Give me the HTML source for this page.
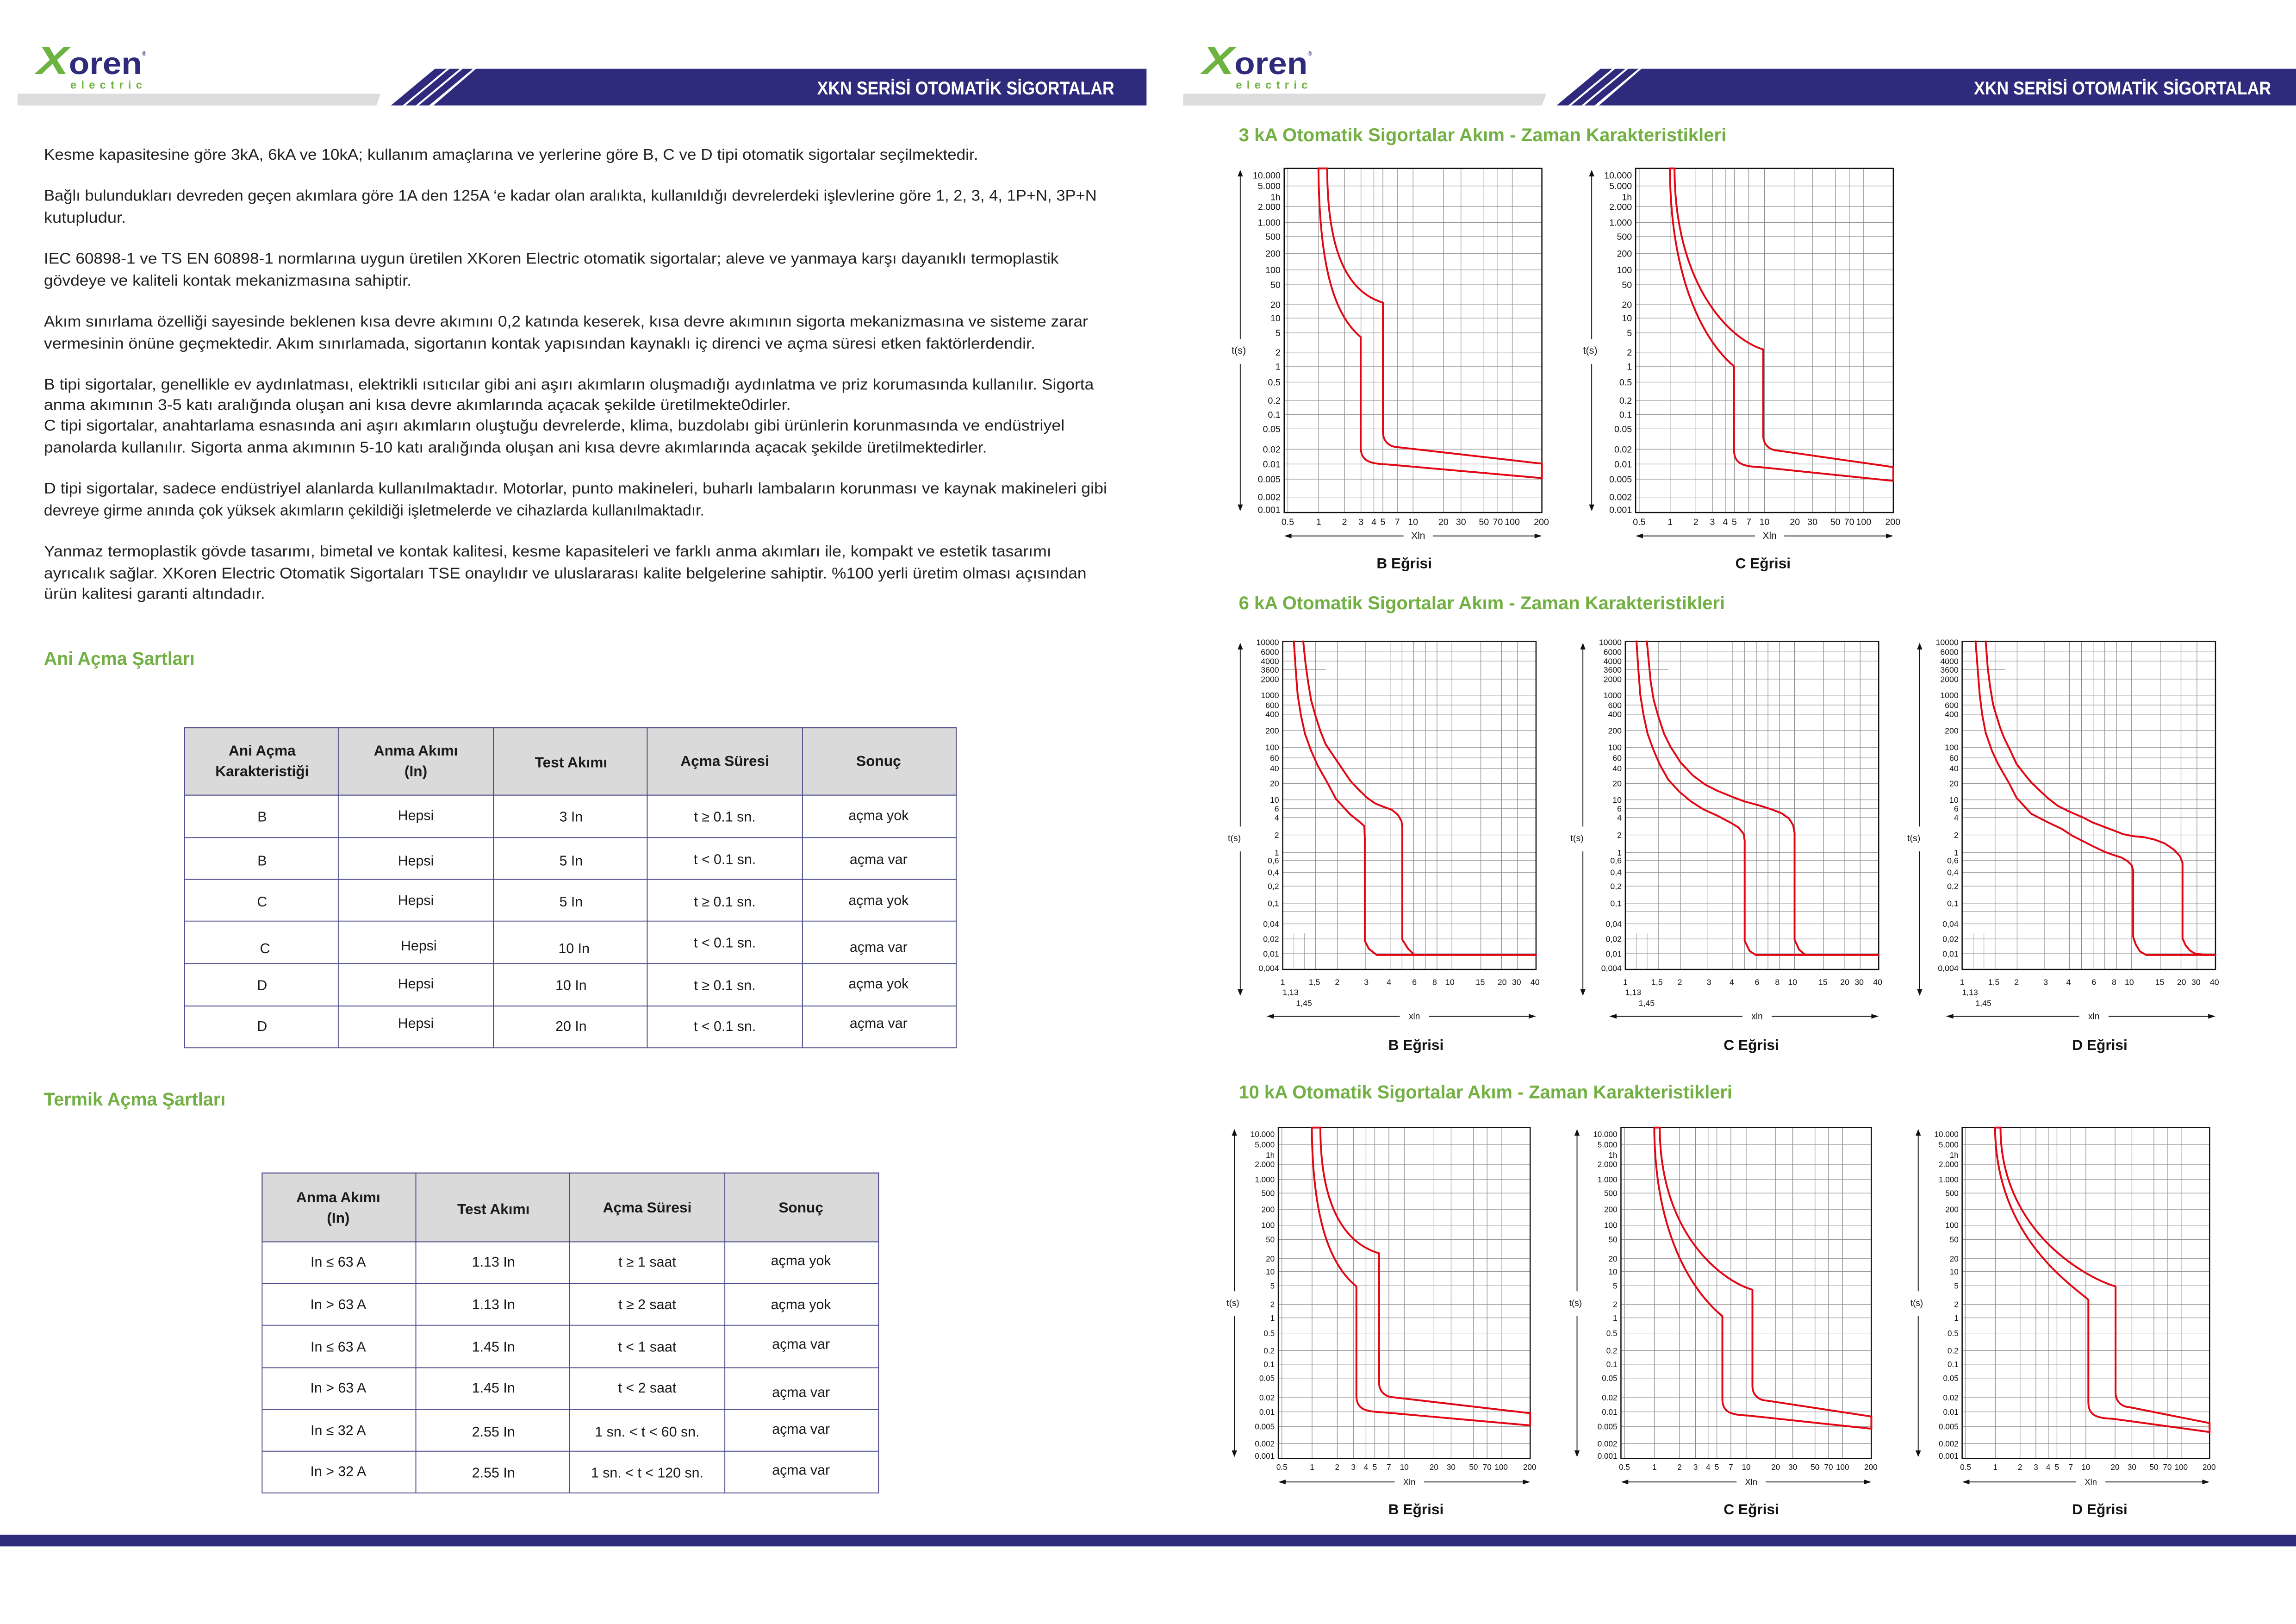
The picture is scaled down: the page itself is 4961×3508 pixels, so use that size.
<!DOCTYPE html>
<html><head><meta charset="utf-8">
<style>
html,body{margin:0;padding:0;background:#fff;}
svg{display:block;}
.p{font-family:"Liberation Sans",sans-serif;font-size:10.4px;fill:#222;}
.h{font-family:"Liberation Sans",sans-serif;font-weight:bold;fill:#72b043;font-size:12.5px;}
.th{font-family:"Liberation Sans Narrow","Liberation Sans",sans-serif;font-weight:bold;font-size:10px;fill:#1a1a1a;text-anchor:middle;}
.td{font-family:"Liberation Sans Narrow","Liberation Sans",sans-serif;font-size:9.6px;fill:#1a1a1a;text-anchor:middle;}
.cap{font-family:"Liberation Sans",sans-serif;font-weight:bold;font-size:10px;fill:#111;text-anchor:middle;}
.ch text{font-family:"Liberation Sans",sans-serif;fill:#111;}
.tt{font-family:"Liberation Sans Narrow","Liberation Sans",sans-serif;font-weight:bold;font-size:12.5px;fill:#fff;}
</style></head><body>
<svg id="S" width="4961" height="3508" viewBox="0 0 1568 1109" preserveAspectRatio="none" xmlns="http://www.w3.org/2000/svg">
<rect width="1568" height="1109" fill="#fff"/>
<!-- headers -->
<g id="hdrL">
<polygon points="12,64 260,64 257,72 12,72" fill="#dcdcdc"/>
<polygon points="267,72 275,72 305,47 297,47" fill="#2e2b7c"/>
<polygon points="277,72 284,72 314,47 307,47" fill="#2e2b7c"/>
<polygon points="286,72 293,72 323,47 316,47" fill="#2e2b7c"/>
<polygon points="296,72 325,47 783,47 783,72" fill="#2e2b7c"/>
<text class="tt" x="761" y="64.5" text-anchor="end" textLength="203" lengthAdjust="spacingAndGlyphs">XKN SERİSİ OTOMATİK SİGORTALAR</text>
<text x="25" y="50.6" font-family="Liberation Sans" font-weight="bold" font-style="italic" font-size="27" fill="#6db33f" textLength="22" lengthAdjust="spacingAndGlyphs">X</text>
<text x="47" y="50.6" font-family="Liberation Sans" font-weight="bold" font-size="21" fill="#2e2b7c" textLength="50" lengthAdjust="spacingAndGlyphs">oren</text>
<text x="97" y="38" font-family="Liberation Sans" font-size="4" fill="#2e2b7c">®</text>
<text x="48" y="60.5" font-family="Liberation Sans" font-weight="bold" font-size="7.5" fill="#6db33f" textLength="49" lengthAdjust="spacing">electric</text>
</g>
<g transform="translate(796,0)">
<polygon points="12,64 260,64 257,72 12,72" fill="#dcdcdc"/>
<polygon points="267,72 275,72 305,47 297,47" fill="#2e2b7c"/>
<polygon points="277,72 284,72 314,47 307,47" fill="#2e2b7c"/>
<polygon points="286,72 293,72 323,47 316,47" fill="#2e2b7c"/>
<polygon points="296,72 325,47 772,47 772,72" fill="#2e2b7c"/>
<text class="tt" x="755" y="64.5" text-anchor="end" textLength="203" lengthAdjust="spacingAndGlyphs">XKN SERİSİ OTOMATİK SİGORTALAR</text>
<text x="25" y="50.6" font-family="Liberation Sans" font-weight="bold" font-style="italic" font-size="27" fill="#6db33f" textLength="22" lengthAdjust="spacingAndGlyphs">X</text>
<text x="47" y="50.6" font-family="Liberation Sans" font-weight="bold" font-size="21" fill="#2e2b7c" textLength="50" lengthAdjust="spacingAndGlyphs">oren</text>
<text x="97" y="38" font-family="Liberation Sans" font-size="4" fill="#2e2b7c">®</text>
<text x="48" y="60.5" font-family="Liberation Sans" font-weight="bold" font-size="7.5" fill="#6db33f" textLength="49" lengthAdjust="spacing">electric</text>
</g>
<rect x="0" y="1048" width="1568" height="8" fill="#2e2b7c"/>

<!-- paragraphs -->
<text class="p" x="30" y="109" textLength="638" lengthAdjust="spacingAndGlyphs">Kesme kapasitesine göre 3kA, 6kA ve 10kA; kullanım amaçlarına ve yerlerine göre B, C ve D tipi otomatik sigortalar seçilmektedir.</text>
<text class="p" x="30" y="137" textLength="719" lengthAdjust="spacingAndGlyphs">Bağlı bulundukları devreden geçen akımlara göre 1A den 125A ‘e kadar olan aralıkta, kullanıldığı devrelerdeki işlevlerine göre 1, 2, 3, 4, 1P+N, 3P+N</text>
<text class="p" x="30" y="152" textLength="56" lengthAdjust="spacingAndGlyphs">kutupludur.</text>
<text class="p" x="30" y="180" textLength="693" lengthAdjust="spacingAndGlyphs">IEC 60898-1 ve TS EN 60898-1 normlarına uygun üretilen XKoren Electric otomatik sigortalar; aleve ve yanmaya karşı dayanıklı termoplastik</text>
<text class="p" x="30" y="195" textLength="251" lengthAdjust="spacingAndGlyphs">gövdeye ve kaliteli kontak mekanizmasına sahiptir.</text>
<text class="p" x="30" y="223" textLength="713" lengthAdjust="spacingAndGlyphs">Akım sınırlama özelliği sayesinde beklenen kısa devre akımını 0,2 katında keserek, kısa devre akımının sigorta mekanizmasına ve sisteme zarar</text>
<text class="p" x="30" y="238" textLength="677" lengthAdjust="spacingAndGlyphs">vermesinin önüne geçmektedir. Akım sınırlamada, sigortanın kontak yapısından kaynaklı iç direnci ve açma süresi etken faktörlerdendir.</text>
<text class="p" x="30" y="266" textLength="717" lengthAdjust="spacingAndGlyphs">B tipi sigortalar, genellikle ev aydınlatması, elektrikli ısıtıcılar gibi ani aşırı akımların oluşmadığı aydınlatma ve priz korumasında kullanılır. Sigorta</text>
<text class="p" x="30" y="280" textLength="510" lengthAdjust="spacingAndGlyphs">anma akımının 3-5 katı aralığında oluşan ani kısa devre akımlarında açacak şekilde üretilmekte0dirler.</text>
<text class="p" x="30" y="294" textLength="697" lengthAdjust="spacingAndGlyphs">C tipi sigortalar, anahtarlama esnasında ani aşırı akımların oluştuğu devrelerde, klima, buzdolabı gibi ürünlerin korunmasında ve endüstriyel</text>
<text class="p" x="30" y="309" textLength="644" lengthAdjust="spacingAndGlyphs">panolarda kullanılır. Sigorta anma akımının 5-10 katı aralığında oluşan ani kısa devre akımlarında açacak şekilde üretilmektedirler.</text>
<text class="p" x="30" y="337" textLength="726" lengthAdjust="spacingAndGlyphs">D tipi sigortalar, sadece endüstriyel alanlarda kullanılmaktadır. Motorlar, punto makineleri, buharlı lambaların korunması ve kaynak makineleri gibi</text>
<text class="p" x="30" y="352" textLength="451" lengthAdjust="spacingAndGlyphs">devreye girme anında çok yüksek akımların çekildiği işletmelerde ve cihazlarda kullanılmaktadır.</text>
<text class="p" x="30" y="380" textLength="688" lengthAdjust="spacingAndGlyphs">Yanmaz termoplastik gövde tasarımı, bimetal ve kontak kalitesi, kesme kapasiteleri ve farklı anma akımları ile, kompakt ve estetik tasarımı</text>
<text class="p" x="30" y="395" textLength="712" lengthAdjust="spacingAndGlyphs">ayrıcalık sağlar. XKoren Electric Otomatik Sigortaları TSE onaylıdır ve uluslararası kalite belgelerine sahiptir. %100 yerli üretim olması açısından</text>
<text class="p" x="30" y="409" textLength="151" lengthAdjust="spacingAndGlyphs">ürün kalitesi garanti altındadır.</text>

<text class="h" x="30" y="454" textLength="103" lengthAdjust="spacingAndGlyphs">Ani Açma Şartları</text>
<text class="h" x="30" y="755" textLength="124" lengthAdjust="spacingAndGlyphs">Termik Açma Şartları</text>

<!-- table 1 -->
<g stroke="#4b4a8c" stroke-width="0.6">
<rect x="126" y="497" width="527" height="46" fill="#dadada"/>
<rect x="126" y="497" width="527" height="218.5" fill="none"/>
<line x1="231" y1="497" x2="231" y2="715.5"/><line x1="337" y1="497" x2="337" y2="715.5"/><line x1="442" y1="497" x2="442" y2="715.5"/><line x1="548" y1="497" x2="548" y2="715.5"/>
<line x1="126" y1="543" x2="653" y2="543"/><line x1="126" y1="572" x2="653" y2="572"/><line x1="126" y1="600.5" x2="653" y2="600.5"/><line x1="126" y1="629" x2="653" y2="629"/><line x1="126" y1="658" x2="653" y2="658"/><line x1="126" y1="687" x2="653" y2="687"/>
</g>
<text class="th" x="179" y="516">Ani Açma</text><text class="th" x="179" y="530">Karakteristiği</text>
<text class="th" x="284" y="516">Anma Akımı</text><text class="th" x="284" y="530">(In)</text>
<text class="th" x="390" y="524">Test Akımı</text>
<text class="th" x="495" y="523">Açma Süresi</text>
<text class="th" x="600" y="523">Sonuç</text>
<text class="td" x="179" y="561">B</text><text class="td" x="284" y="560">Hepsi</text><text class="td" x="390" y="561">3 In</text><text class="td" x="495" y="561">t ≥ 0.1 sn.</text><text class="td" x="600" y="560">açma yok</text>
<text class="td" x="179" y="591">B</text><text class="td" x="284" y="591">Hepsi</text><text class="td" x="390" y="591">5 In</text><text class="td" x="495" y="590">t &lt; 0.1 sn.</text><text class="td" x="600" y="590">açma var</text>
<text class="td" x="179" y="619">C</text><text class="td" x="284" y="618">Hepsi</text><text class="td" x="390" y="619">5 In</text><text class="td" x="495" y="619">t ≥ 0.1 sn.</text><text class="td" x="600" y="618">açma yok</text>
<text class="td" x="181" y="651">C</text><text class="td" x="286" y="649">Hepsi</text><text class="td" x="392" y="651">10 In</text><text class="td" x="495" y="647">t &lt; 0.1 sn.</text><text class="td" x="600" y="650">açma var</text>
<text class="td" x="179" y="676">D</text><text class="td" x="284" y="675">Hepsi</text><text class="td" x="390" y="676">10 In</text><text class="td" x="495" y="676">t ≥ 0.1 sn.</text><text class="td" x="600" y="675">açma yok</text>
<text class="td" x="179" y="704">D</text><text class="td" x="284" y="702">Hepsi</text><text class="td" x="390" y="704">20 In</text><text class="td" x="495" y="704">t &lt; 0.1 sn.</text><text class="td" x="600" y="702">açma var</text>

<!-- table 2 -->
<g stroke="#4b4a8c" stroke-width="0.6">
<rect x="179" y="801" width="421" height="47" fill="#dadada"/>
<rect x="179" y="801" width="421" height="218.5" fill="none"/>
<line x1="284" y1="801" x2="284" y2="1019.5"/><line x1="389" y1="801" x2="389" y2="1019.5"/><line x1="495" y1="801" x2="495" y2="1019.5"/>
<line x1="179" y1="848" x2="600" y2="848"/><line x1="179" y1="876.5" x2="600" y2="876.5"/><line x1="179" y1="905" x2="600" y2="905"/><line x1="179" y1="934" x2="600" y2="934"/><line x1="179" y1="962.5" x2="600" y2="962.5"/><line x1="179" y1="991" x2="600" y2="991"/>
</g>
<text class="th" x="231" y="821">Anma Akımı</text><text class="th" x="231" y="835">(In)</text>
<text class="th" x="337" y="829">Test Akımı</text>
<text class="th" x="442" y="828">Açma Süresi</text>
<text class="th" x="547" y="828">Sonuç</text>
<text class="td" x="231" y="865">In ≤ 63 A</text><text class="td" x="337" y="865">1.13 In</text><text class="td" x="442" y="865">t ≥ 1 saat</text><text class="td" x="547" y="864">açma yok</text>
<text class="td" x="231" y="894">In &gt; 63 A</text><text class="td" x="337" y="894">1.13 In</text><text class="td" x="442" y="894">t ≥ 2 saat</text><text class="td" x="547" y="894">açma yok</text>
<text class="td" x="231" y="923">In ≤ 63 A</text><text class="td" x="337" y="923">1.45 In</text><text class="td" x="442" y="923">t &lt; 1 saat</text><text class="td" x="547" y="921">açma var</text>
<text class="td" x="231" y="951">In &gt; 63 A</text><text class="td" x="337" y="951">1.45 In</text><text class="td" x="442" y="951">t &lt; 2 saat</text><text class="td" x="547" y="954">açma var</text>
<text class="td" x="231" y="980">In ≤ 32 A</text><text class="td" x="337" y="981">2.55 In</text><text class="td" x="442" y="981">1 sn. &lt; t &lt; 60 sn.</text><text class="td" x="547" y="979">açma var</text>
<text class="td" x="231" y="1008">In &gt; 32 A</text><text class="td" x="337" y="1009">2.55 In</text><text class="td" x="442" y="1009">1 sn. &lt; t &lt; 120 sn.</text><text class="td" x="547" y="1007">açma var</text>

<!-- right page titles -->
<text class="h" x="846" y="96.5" textLength="333" lengthAdjust="spacingAndGlyphs">3 kA Otomatik Sigortalar Akım - Zaman Karakteristikleri</text>
<text class="h" x="846" y="416" textLength="332" lengthAdjust="spacingAndGlyphs">6 kA Otomatik Sigortalar Akım - Zaman Karakteristikleri</text>
<text class="h" x="846" y="750" textLength="337" lengthAdjust="spacingAndGlyphs">10 kA Otomatik Sigortalar Akım - Zaman Karakteristikleri</text>
<text class="cap" x="959" y="388">B Eğrisi</text>
<text class="cap" x="1204" y="388">C Eğrisi</text>
<text class="cap" x="967" y="717">B Eğrisi</text>
<text class="cap" x="1196" y="717">C Eğrisi</text>
<text class="cap" x="1434" y="717">D Eğrisi</text>
<text class="cap" x="967" y="1034">B Eğrisi</text>
<text class="cap" x="1196" y="1034">C Eğrisi</text>
<text class="cap" x="1434" y="1034">D Eğrisi</text>

<!-- charts (labels static, positioned by script) -->
<g class="ch t3" id="a1"><text class="y">10.000</text><text class="y">5.000</text><text class="y">1h</text><text class="y">2.000</text><text class="y">1.000</text><text class="y">500</text><text class="y">200</text><text class="y">100</text><text class="y">50</text><text class="y">20</text><text class="y">10</text><text class="y">5</text><text class="y">2</text><text class="y">1</text><text class="y">0.5</text><text class="y">0.2</text><text class="y">0.1</text><text class="y">0.05</text><text class="y">0.02</text><text class="y">0.01</text><text class="y">0.005</text><text class="y">0.002</text><text class="y">0.001</text><text class="x">0.5</text><text class="x">1</text><text class="x">2</text><text class="x">3</text><text class="x">4</text><text class="x">5</text><text class="x">7</text><text class="x">10</text><text class="x">20</text><text class="x">30</text><text class="x">50</text><text class="x">70</text><text class="x">100</text><text class="x">200</text><text class="t">t(s)</text><text class="a">Xln</text></g>
<g class="ch t3" id="a2"><text class="y">10.000</text><text class="y">5.000</text><text class="y">1h</text><text class="y">2.000</text><text class="y">1.000</text><text class="y">500</text><text class="y">200</text><text class="y">100</text><text class="y">50</text><text class="y">20</text><text class="y">10</text><text class="y">5</text><text class="y">2</text><text class="y">1</text><text class="y">0.5</text><text class="y">0.2</text><text class="y">0.1</text><text class="y">0.05</text><text class="y">0.02</text><text class="y">0.01</text><text class="y">0.005</text><text class="y">0.002</text><text class="y">0.001</text><text class="x">0.5</text><text class="x">1</text><text class="x">2</text><text class="x">3</text><text class="x">4</text><text class="x">5</text><text class="x">7</text><text class="x">10</text><text class="x">20</text><text class="x">30</text><text class="x">50</text><text class="x">70</text><text class="x">100</text><text class="x">200</text><text class="t">t(s)</text><text class="a">Xln</text></g>
<g class="ch t3" id="c1"><text class="y">10.000</text><text class="y">5.000</text><text class="y">1h</text><text class="y">2.000</text><text class="y">1.000</text><text class="y">500</text><text class="y">200</text><text class="y">100</text><text class="y">50</text><text class="y">20</text><text class="y">10</text><text class="y">5</text><text class="y">2</text><text class="y">1</text><text class="y">0.5</text><text class="y">0.2</text><text class="y">0.1</text><text class="y">0.05</text><text class="y">0.02</text><text class="y">0.01</text><text class="y">0.005</text><text class="y">0.002</text><text class="y">0.001</text><text class="x">0.5</text><text class="x">1</text><text class="x">2</text><text class="x">3</text><text class="x">4</text><text class="x">5</text><text class="x">7</text><text class="x">10</text><text class="x">20</text><text class="x">30</text><text class="x">50</text><text class="x">70</text><text class="x">100</text><text class="x">200</text><text class="t">t(s)</text><text class="a">Xln</text></g>
<g class="ch t3" id="c2"><text class="y">10.000</text><text class="y">5.000</text><text class="y">1h</text><text class="y">2.000</text><text class="y">1.000</text><text class="y">500</text><text class="y">200</text><text class="y">100</text><text class="y">50</text><text class="y">20</text><text class="y">10</text><text class="y">5</text><text class="y">2</text><text class="y">1</text><text class="y">0.5</text><text class="y">0.2</text><text class="y">0.1</text><text class="y">0.05</text><text class="y">0.02</text><text class="y">0.01</text><text class="y">0.005</text><text class="y">0.002</text><text class="y">0.001</text><text class="x">0.5</text><text class="x">1</text><text class="x">2</text><text class="x">3</text><text class="x">4</text><text class="x">5</text><text class="x">7</text><text class="x">10</text><text class="x">20</text><text class="x">30</text><text class="x">50</text><text class="x">70</text><text class="x">100</text><text class="x">200</text><text class="t">t(s)</text><text class="a">Xln</text></g>
<g class="ch t3" id="c3"><text class="y">10.000</text><text class="y">5.000</text><text class="y">1h</text><text class="y">2.000</text><text class="y">1.000</text><text class="y">500</text><text class="y">200</text><text class="y">100</text><text class="y">50</text><text class="y">20</text><text class="y">10</text><text class="y">5</text><text class="y">2</text><text class="y">1</text><text class="y">0.5</text><text class="y">0.2</text><text class="y">0.1</text><text class="y">0.05</text><text class="y">0.02</text><text class="y">0.01</text><text class="y">0.005</text><text class="y">0.002</text><text class="y">0.001</text><text class="x">0.5</text><text class="x">1</text><text class="x">2</text><text class="x">3</text><text class="x">4</text><text class="x">5</text><text class="x">7</text><text class="x">10</text><text class="x">20</text><text class="x">30</text><text class="x">50</text><text class="x">70</text><text class="x">100</text><text class="x">200</text><text class="t">t(s)</text><text class="a">Xln</text></g>
<g class="ch t6" id="b1"><text class="y">10000</text><text class="y">6000</text><text class="y">4000</text><text class="y">3600</text><text class="y">2000</text><text class="y">1000</text><text class="y">600</text><text class="y">400</text><text class="y">200</text><text class="y">100</text><text class="y">60</text><text class="y">40</text><text class="y">20</text><text class="y">10</text><text class="y">6</text><text class="y">4</text><text class="y">2</text><text class="y">1</text><text class="y">0,6</text><text class="y">0,4</text><text class="y">0,2</text><text class="y">0,1</text><text class="y">0,04</text><text class="y">0,02</text><text class="y">0,01</text><text class="y">0,004</text><text class="x">1</text><text class="x">1,5</text><text class="x">2</text><text class="x">3</text><text class="x">4</text><text class="x">6</text><text class="x">8</text><text class="x">10</text><text class="x">15</text><text class="x">20</text><text class="x">30</text><text class="x">40</text><text class="x">1,13</text><text class="x">1,45</text><text class="t">t(s)</text><text class="a">xln</text></g>
<g class="ch t6" id="b2"><text class="y">10000</text><text class="y">6000</text><text class="y">4000</text><text class="y">3600</text><text class="y">2000</text><text class="y">1000</text><text class="y">600</text><text class="y">400</text><text class="y">200</text><text class="y">100</text><text class="y">60</text><text class="y">40</text><text class="y">20</text><text class="y">10</text><text class="y">6</text><text class="y">4</text><text class="y">2</text><text class="y">1</text><text class="y">0,6</text><text class="y">0,4</text><text class="y">0,2</text><text class="y">0,1</text><text class="y">0,04</text><text class="y">0,02</text><text class="y">0,01</text><text class="y">0,004</text><text class="x">1</text><text class="x">1,5</text><text class="x">2</text><text class="x">3</text><text class="x">4</text><text class="x">6</text><text class="x">8</text><text class="x">10</text><text class="x">15</text><text class="x">20</text><text class="x">30</text><text class="x">40</text><text class="x">1,13</text><text class="x">1,45</text><text class="t">t(s)</text><text class="a">xln</text></g>
<g class="ch t6" id="b3"><text class="y">10000</text><text class="y">6000</text><text class="y">4000</text><text class="y">3600</text><text class="y">2000</text><text class="y">1000</text><text class="y">600</text><text class="y">400</text><text class="y">200</text><text class="y">100</text><text class="y">60</text><text class="y">40</text><text class="y">20</text><text class="y">10</text><text class="y">6</text><text class="y">4</text><text class="y">2</text><text class="y">1</text><text class="y">0,6</text><text class="y">0,4</text><text class="y">0,2</text><text class="y">0,1</text><text class="y">0,04</text><text class="y">0,02</text><text class="y">0,01</text><text class="y">0,004</text><text class="x">1</text><text class="x">1,5</text><text class="x">2</text><text class="x">3</text><text class="x">4</text><text class="x">6</text><text class="x">8</text><text class="x">10</text><text class="x">15</text><text class="x">20</text><text class="x">30</text><text class="x">40</text><text class="x">1,13</text><text class="x">1,45</text><text class="t">t(s)</text><text class="a">xln</text></g>
</svg>
<script>
(function(){
var NS="http://www.w3.org/2000/svg";
function el(g,tag,attrs){var e=document.createElementNS(NS,tag);for(var k in attrs)e.setAttribute(k,attrs[k]);g.insertBefore(e,g.firstChild);return e;}
function elTop(g,tag,attrs){var e=document.createElementNS(NS,tag);for(var k in attrs)e.setAttribute(k,attrs[k]);g.appendChild(e);return e;}
function mapPath(b,s){return s.replace(/(-?[\d.]+)\s+(-?[\d.]+)/g,function(m,a,c){return (b[0]+parseFloat(a)*b[2]).toFixed(2)+" "+(b[1]+parseFloat(c)*b[3]).toFixed(2);});}
function f(n){return n.toFixed(3);}
function k3(a,b,vL,kL,bL,vR,kR,bR){
 var L="M "+f(a)+" 0 C "+f(a+.003)+" "+f(kL*.61)+" "+f(vL-.097)+" "+f(kL-.06)+" "+f(vL)+" "+f(kL)+" L "+f(vL)+" "+f(bL)+" C "+f(vL)+" "+f(bL+.04)+" "+f(vL+.033)+" "+f(bL+.048)+" "+f(vL+.10)+" "+f(bL+.05)+" L 1 "+f(bL+.09);
 var R="M "+f(b)+" 0 C "+f(b)+" "+f(kR*.64)+" "+f(vR-.133)+" "+f(kR-.03)+" "+f(vR)+" "+f(kR)+" L "+f(vR)+" "+f(bR)+" C "+f(vR)+" "+f(bR+.035)+" "+f(vR+.037)+" "+f(bR+.045)+" "+f(vR+.057)+" "+f(bR+.045)+" L 1 "+f(bR+.093);
 var T="M "+f(a)+" 0 L "+f(b)+" 0 M 1 "+f(bR+.093)+" L 1 "+f(bL+.09);
 return [L,R,T];
}
function pts(arr,x0,w,y0,h){var s="";for(var i=0;i<arr.length;i+=2){s+=(i?" L ":"M ")+f((arr[i]-x0)/w)+" "+f((arr[i+1]-y0)/h);}return s;}
var T3={yf:[.020,.051,.083,.111,.157,.198,.247,.295,.338,.396,.435,.478,.534,.575,.621,.674,.715,.757,.816,.859,.903,.955,.992],
 hg:[.051,.111,.157,.198,.247,.295,.338,.396,.435,.478,.534,.575,.621,.674,.715,.757,.816,.859,.903,.955],
 xf:[.014,.134,.234,.298,.348,.383,.439,.500,.618,.686,.775,.829,.885,.998],
 vg:[.014,.134,.234,.298,.348,.383,.439,.500,.618,.686,.775,.829,.885]};
var T6={yf:[.002,.032,.060,.086,.115,.164,.194,.222,.272,.323,.355,.387,.433,.483,.510,.537,.590,.644,.668,.704,.746,.798,.861,.907,.952,.996],
 hg:[.032,.060,.115,.164,.194,.222,.272,.323,.355,.387,.433,.483,.510,.537,.590,.644,.668,.704,.746,.798,.824,.861,.907,.952],
 xf:[0,.125,.215,.33,.42,.52,.6,.66,.78,.866,.923,.996,.031,.084],
 vg:[.130,.217,.326,.424,.471,.517,.563,.609,.668,.782,.864,.927]};
var B6L=[326,45,335,150,345,250,360,330,380,400,410,465,440,520,490,590,530,650,570,685,600,710,640,735,668,755,670,800,670,1195,690,1225,728,1250,1500,1250];
var B6R=[372,45,383,130,395,200,410,270,430,330,455,390,480,440,540,510,600,580,640,615,680,645,720,668,760,680,800,692,830,710,848,735,852,760,852,1190,880,1225,910,1250];
var C6L=[326,45,335,150,345,250,360,330,380,400,410,465,440,520,480,575,530,620,590,660,650,690,720,715,780,740,820,760,845,785,850,810,850,1195,875,1235,905,1250,1500,1250];
var C6R=[376,45,386,130,395,200,410,270,430,330,460,400,490,450,540,510,600,560,660,595,720,620,790,642,850,660,920,675,980,690,1030,705,1065,725,1085,750,1092,780,1092,1190,1115,1230,1145,1250];
var D6L=[330,48,340,150,350,250,362,330,380,400,410,470,440,520,490,590,530,650,600,710,670,740,750,770,800,795,900,835,960,858,1000,870,1040,880,1070,893,1090,910,1097,930,1097,1185,1110,1215,1130,1240,1160,1255,1497,1255];
var D6R=[380,48,390,150,400,220,415,290,430,330,450,380,470,420,500,470,530,520,580,570,600,590,640,620,680,650,730,680,780,700,850,725,900,745,950,760,1000,775,1050,790,1100,798,1150,802,1200,810,1250,825,1295,850,1325,875,1337,900,1337,1190,1350,1215,1370,1235,1395,1248,1440,1253,1497,1255];
var charts=[
 {id:"a1",b:[877,115,176,235],t:3,fs:6.2,c:k3(.133,.167,.297,.49,.81,.383,.39,.765)},
 {id:"a2",b:[1117,115,176,235],t:3,fs:6.2,c:k3(.133,.151,.382,.575,.818,.495,.526,.775)},
 {id:"c1",b:[873,770,172,226],t:3,fs:5.4,c:k3(.133,.167,.31,.48,.81,.40,.38,.77)},
 {id:"c2",b:[1107,770,171,226],t:3,fs:5.4,c:k3(.133,.155,.405,.57,.82,.525,.49,.78)},
 {id:"c3",b:[1340,770,169,226],t:3,fs:5.4,c:k3(.133,.155,.51,.52,.83,.62,.48,.80)},
 {id:"b1",b:[876,438,173,224],t:6,fs:5.6,c:[pts(B6L,272,1228,45,1260),pts(B6R,272,1228,45,1260)]},
 {id:"b2",b:[1110,438,173,224],t:6,fs:5.6,c:[pts(C6L,272,1228,45,1260),pts(C6R,272,1228,45,1260)]},
 {id:"b3",b:[1340,438,173,224],t:6,fs:5.6,c:[pts(D6L,265,1232,48,1262),pts(D6R,265,1232,48,1262)]}
];
charts.forEach(function(C){
 var g=document.getElementById(C.id),b=C.b,T=C.t==3?T3:T6,x=b[0],y=b[1],w=b[2],h=b[3];
 // grid (inserted first so it's below labels)
 var gr=document.createElementNS(NS,"g");g.insertBefore(gr,g.firstChild);
 T.hg.forEach(function(fy){elTop(gr,"line",{x1:x,x2:x+w,y1:y+fy*h,y2:y+fy*h,stroke:"#8a8a8a","stroke-width":0.35});});
 T.vg.forEach(function(fx){elTop(gr,"line",{x1:x+fx*w,x2:x+fx*w,y1:y,y2:y+h,stroke:"#8a8a8a","stroke-width":0.4});});
 if(C.t==6){
  elTop(gr,"line",{x1:x,x2:x+.17*w,y1:y+.086*h,y2:y+.086*h,stroke:"#8a8a8a","stroke-width":0.3});
  [.044,.086].forEach(function(fx){elTop(gr,"line",{x1:x+fx*w,x2:x+fx*w,y1:y+.89*h,y2:y+h,stroke:"#9a9a9a","stroke-width":0.3});});
 }
 elTop(gr,"rect",{x:x,y:y,width:w,height:h,fill:"none",stroke:"#111","stroke-width":0.8});
 C.c.forEach(function(s){elTop(gr,"path",{d:mapPath(b,s),fill:"none",stroke:"#e30613","stroke-width":1.25,"stroke-linejoin":"round","stroke-linecap":"round"});});
 // labels
 var ys=g.querySelectorAll("text.y"),xs=g.querySelectorAll("text.x");
 ys.forEach(function(t,i){t.setAttribute("x",x-2.5);t.setAttribute("y",(y+T.yf[i]*h+C.fs*0.36).toFixed(2));t.setAttribute("text-anchor","end");t.setAttribute("font-size",C.fs);});
 var xb=C.t==3?(y+h+C.fs+2.3):(y+h+10.5);
 xs.forEach(function(t,i){var yy=xb;if(C.t==6&&i==12)yy=y+h+17.5;if(C.t==6&&i==13)yy=y+h+25;
  t.setAttribute("x",(x+T.xf[i]*w).toFixed(2));t.setAttribute("y",yy.toFixed(2));t.setAttribute("text-anchor",(C.t==6&&i==11)?"middle":"middle");t.setAttribute("font-size",C.fs);});
 var ts=g.querySelector("text.t"),ax=g.querySelector("text.a");
 var tx=C.t==3?x-31:x-33, ty=C.t==3?y+h*.53:y+h*.6;
 ts.setAttribute("x",tx);ts.setAttribute("y",ty+2);ts.setAttribute("text-anchor","middle");ts.setAttribute("font-size",C.fs+0.6);
 // y arrow
 var yax=C.t==3?x-30:x-29, y0=y+1, y1=C.t==3?y+h-1:y+h+18, g0=ty-8, g1=ty+9;
 var ag=document.createElementNS(NS,"g");g.appendChild(ag);
 elTop(ag,"line",{x1:yax,x2:yax,y1:y0+4,y2:g0,stroke:"#111","stroke-width":0.6});
 elTop(ag,"line",{x1:yax,x2:yax,y1:g1,y2:y1-4,stroke:"#111","stroke-width":0.6});
 elTop(ag,"polygon",{points:(yax-1.8)+","+(y0+4.5)+" "+(yax+1.8)+","+(y0+4.5)+" "+yax+","+y0,fill:"#111"});
 elTop(ag,"polygon",{points:(yax-1.8)+","+(y1-4.5)+" "+(yax+1.8)+","+(y1-4.5)+" "+yax+","+y1,fill:"#111"});
 // x arrow
 var xay=C.t==3?y+h+16:y+h+32, xa0=C.t==3?x:x-11, xa1=x+w, cx=x+w*.52;
 ax.setAttribute("x",cx);ax.setAttribute("y",xay+2);ax.setAttribute("text-anchor","middle");ax.setAttribute("font-size",C.fs+0.4);
 elTop(ag,"line",{x1:xa0+4,x2:cx-10,y1:xay,y2:xay,stroke:"#111","stroke-width":0.6});
 elTop(ag,"line",{x1:cx+10,x2:xa1-4,y1:xay,y2:xay,stroke:"#111","stroke-width":0.6});
 elTop(ag,"polygon",{points:(xa0+5)+","+(xay-1.6)+" "+(xa0+5)+","+(xay+1.6)+" "+xa0+","+xay,fill:"#111"});
 elTop(ag,"polygon",{points:(xa1-5)+","+(xay-1.6)+" "+(xa1-5)+","+(xay+1.6)+" "+xa1+","+xay,fill:"#111"});
});
})();
</script>
</body></html>
